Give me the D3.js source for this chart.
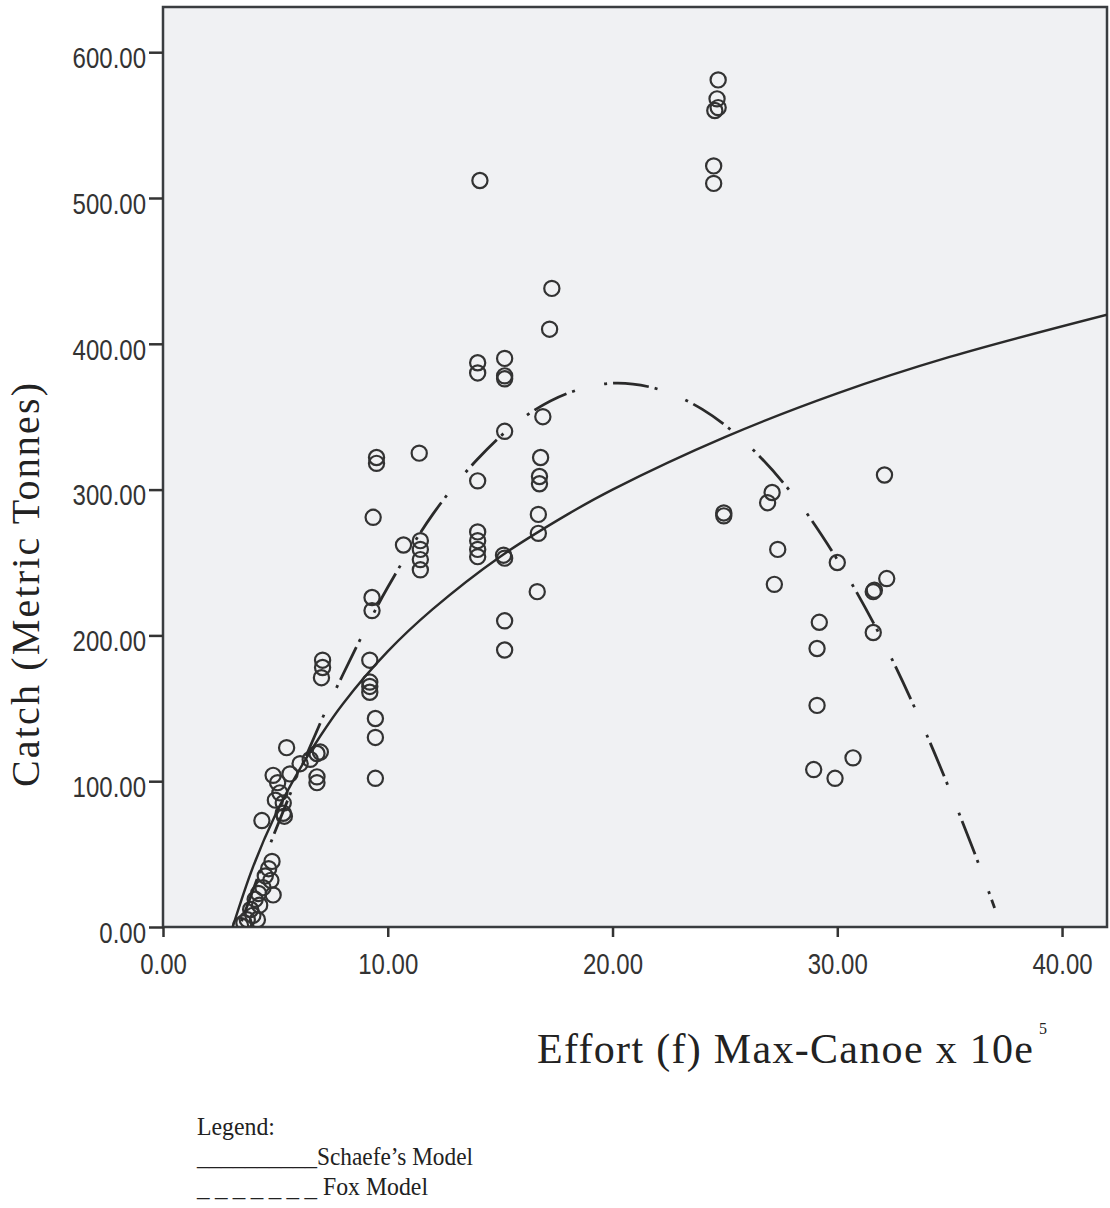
<!DOCTYPE html>
<html>
<head>
<meta charset="utf-8">
<script src="https://cdnjs.cloudflare.com/ajax/libs/d3/7.8.5/d3.min.js"></script>
<style>
  body { margin: 0; background: #fff; }
  svg { display: block; }
</style>
</head>
<body>
<svg class="scatter" width="1110" height="1208"></svg>
<script>
const effort = [
  3.45, 3.6, 3.75, 3.9, 4.0, 4.2, 4.1, 4.25, 4.3, 4.45, 4.55, 4.7, 4.8, 4.85, 4.9,
  4.4, 4.9, 5.1, 5.0, 5.2, 5.35, 5.35, 5.4, 5.5, 5.65, 6.1, 6.55, 6.85, 7.0, 6.85, 6.85,
  7.1, 7.1, 7.05,
  9.3, 9.3, 9.2, 9.2, 9.2, 9.2, 9.45, 9.45, 9.45, 9.35, 9.5, 9.5,
  10.7, 11.4, 11.45, 11.45, 11.45, 11.45,
  14.1, 14.0, 14.0, 14.0, 14.0, 14.0, 14.0, 14.0,
  15.2, 15.2, 15.2, 15.2, 15.15, 15.2, 15.2, 15.2,
  16.9, 16.8, 16.75, 16.75, 16.7, 16.7, 16.65, 17.3, 17.2,
  24.7, 24.65, 24.55, 24.7, 24.5, 24.5, 24.95, 24.95,
  27.1, 26.9, 27.35, 27.2,
  29.2, 29.1, 29.1, 28.95, 29.9, 30.7, 30.0,
  31.6, 31.65, 31.6, 32.2, 32.1
];
const catchT = [
  1, 3, 5, 12, 8, 5, 19, 23, 15, 27, 35, 40, 32, 45, 22,
  73, 104, 99, 87, 92, 85, 78, 76, 123, 105, 112, 115, 119, 120, 103, 99,
  183, 178, 171,
  226, 217, 183, 168, 165, 161, 143, 130, 102, 281, 322, 318,
  262, 325, 265, 259, 252, 245,
  512, 387, 380, 306, 271, 265, 259, 254,
  390, 378, 376, 340, 255, 253, 210, 190,
  350, 322, 309, 304, 283, 270, 230, 438, 410,
  581, 568, 560, 562, 522, 510, 284, 282,
  298, 291, 259, 235,
  209, 191, 152, 108, 102, 116, 250,
  230, 231, 202, 239, 310
];

// fitted model curves, sampled from the figure
const schaeferX = [3.1, 4, 5, 6, 7, 8, 10, 12, 15, 18, 20, 25, 30, 35, 42];
const schaeferY = [0, 41, 77, 106, 131, 153, 189, 218, 254, 283, 300, 336, 366, 391, 420];
const foxX = [3.5, 5, 7, 8, 9, 10, 12, 14, 16, 18, 20, 22, 24, 26, 28, 30, 32, 34, 36, 37];
const foxY = [4, 66, 140, 173, 204, 233, 283, 321, 349, 366, 373, 369, 355, 331, 297, 252, 197, 131, 55, 13];

const xTicks = [0, 10, 20, 30, 40];
const yTicks = [0, 100, 200, 300, 400, 500, 600];

const ink = '#333';
const svg = d3.select('.scatter');

const plotLeft = 163, plotRight = 1107, plotTop = 7, plotBottom = 927;

const xScale = d3.scaleLinear().domain([0, 42]).range([plotLeft, plotRight]);
const yScale = d3.scaleLinear().domain([0, 631]).range([plotBottom, plotTop]);

// plot background + frame
svg.append('rect')
  .attr('x', plotLeft).attr('y', plotTop)
  .attr('width', plotRight - plotLeft).attr('height', plotBottom - plotTop)
  .attr('fill', '#f0f1f3')
  .attr('stroke', '#3a3d40')
  .attr('stroke-width', 2.5);

svg.append('clipPath').attr('id', 'plotClip')
  .append('rect')
  .attr('x', plotLeft).attr('y', plotTop)
  .attr('width', plotRight - plotLeft).attr('height', plotBottom - plotTop);

// axes
const yAxis = svg.append('g')
  .attr('transform', `translate(${plotLeft},0)`)
  .call(d3.axisLeft(yScale).tickValues(yTicks).tickFormat(d3.format('.2f')).tickSize(14).tickPadding(3));

const xAxis = svg.append('g')
  .attr('transform', `translate(0,${plotBottom})`)
  .call(d3.axisBottom(xScale).tickValues(xTicks).tickFormat(d3.format('.2f')).tickSize(10));

[yAxis, xAxis].forEach(ax => {
  ax.select('.domain').remove();
  ax.selectAll('line').attr('stroke', ink).attr('stroke-width', 2.5);
  ax.selectAll('text')
    .attr('fill', ink)
    .style('font-family', '"Liberation Sans", Arial, sans-serif')
    .style('font-size', '24px');
});

yAxis.selectAll('text').attr('dy', '0.53em').attr('transform', 'scale(1,1.2)');
xAxis.selectAll('text').attr('y', 39).attr('dy', 0).attr('transform', 'scale(1,1.2)');

const plot = svg.append('g').attr('clip-path', 'url(#plotClip)');

const line = d3.line()
  .x(d => xScale(d[0]))
  .y(d => yScale(d[1]))
  .curve(d3.curveCatmullRom.alpha(0.5));

// observed points
plot.selectAll('circle')
  .data(d3.zip(effort, catchT))
  .join('circle')
  .attr('cx', d => xScale(d[0]))
  .attr('cy', d => yScale(d[1]))
  .attr('r', 7.6)
  .attr('fill', 'none')
  .attr('stroke', ink)
  .attr('stroke-width', 2.2);

// model lines
plot.append('path')
  .attr('d', line(d3.zip(schaeferX, schaeferY)))
  .attr('fill', 'none')
  .attr('stroke', '#2a2a2a')
  .attr('stroke-width', 2.4);

plot.append('path')
  .attr('d', line(d3.zip(foxX, foxY)))
  .attr('fill', 'none')
  .attr('stroke', '#2a2a2a')
  .attr('stroke-width', 2.8)
  .attr('stroke-dasharray', '3 6 36 6 3 30');

// axis titles
const serif = '"Liberation Serif", "Times New Roman", serif';

svg.append('text')
  .attr('transform', 'translate(39,585) rotate(-90)')
  .attr('text-anchor', 'middle')
  .attr('textLength', 404)
  .attr('lengthAdjust', 'spacing')
  .style('font-family', serif)
  .style('font-size', '40px')
  .attr('fill', '#222')
  .text('Catch (Metric Tonnes)');

svg.append('text')
  .attr('x', 537)
  .attr('y', 1063)
  .attr('textLength', 496)
  .attr('lengthAdjust', 'spacing')
  .style('font-family', serif)
  .style('font-size', '42px')
  .attr('fill', '#222')
  .text('Effort (f) Max-Canoe x 10e');

svg.append('text')
  .attr('x', 1039)
  .attr('y', 1034)
  .style('font-family', serif)
  .style('font-size', '16px')
  .attr('fill', '#222')
  .text('5');

// legend (typed underneath the chart)
const legend = svg.append('g')
  .style('font-family', serif)
  .style('font-size', '25px')
  .attr('fill', '#222');

legend.append('text').attr('x', 197).attr('y', 1135)
  .attr('textLength', 78).attr('lengthAdjust', 'spacingAndGlyphs')
  .text('Legend:');

legend.append('text').attr('x', 197).attr('y', 1165)
  .attr('textLength', 120).attr('lengthAdjust', 'spacingAndGlyphs')
  .text('__________');
legend.append('text').attr('x', 317).attr('y', 1165)
  .attr('textLength', 156).attr('lengthAdjust', 'spacingAndGlyphs')
  .text('Schaefe\u2019s Model');

legend.append('text').attr('x', 197).attr('y', 1196)
  .attr('textLength', 120).attr('lengthAdjust', 'spacing')
  .text('_ _ _ _ _ _ _');
legend.append('text').attr('x', 323).attr('y', 1195)
  .attr('textLength', 105).attr('lengthAdjust', 'spacingAndGlyphs')
  .text('Fox Model');
</script>
</body>
</html>
